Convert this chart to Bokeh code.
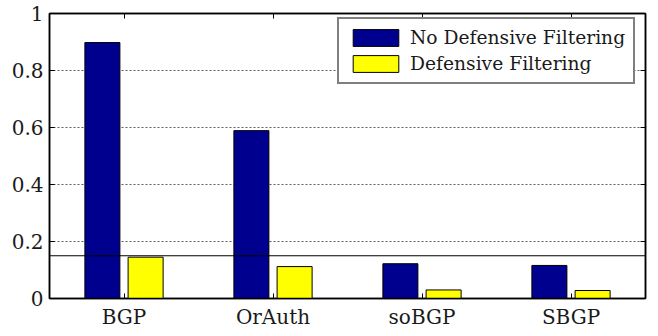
from bokeh.plotting import figure
from bokeh.models import (FactorRange, ColumnDataSource, Span, Legend, LegendItem,
                          CustomJSTickFormatter, LinearAxis, CategoricalAxis, FixedTicker)
from bokeh.transform import dodge
from bokeh.embed import file_html
from bokeh.resources import INLINE

categories = ["BGP", "OrAuth", "soBGP", "SBGP"]
no_filtering = [0.898, 0.589, 0.122, 0.116]
filtering = [0.145, 0.112, 0.030, 0.028]
threshold = 0.15
y_ticks = [0, 0.2, 0.4, 0.6, 0.8, 1]
series_names = ["No Defensive Filtering", "Defensive Filtering"]

FONT = "DejaVu Serif"
FS = "20px"

src = ColumnDataSource(dict(cat=categories, a=no_filtering, b=filtering))

p = figure(width=658, height=336, x_range=FactorRange(factors=categories, range_padding=0),
           y_range=(0, 1), output_backend="svg", toolbar_location=None,
           min_border_left=49, min_border_right=13, min_border_top=13, min_border_bottom=38)
p.x_range.range_padding = 0
p.background_fill_color = "white"
p.border_fill_color = "white"
p.outline_line_color = "black"
p.outline_line_width = 1.5

r1 = p.vbar(x=dodge("cat", -0.145, range=p.x_range), top="a", width=0.235, source=src,
            fill_color="#00008F", line_color="black", line_width=1)
r2 = p.vbar(x=dodge("cat", 0.145, range=p.x_range), top="b", width=0.235, source=src,
            fill_color="#FFFF00", line_color="black", line_width=1)

p.add_layout(Span(location=threshold, dimension="width", line_color="black", line_width=1))

p.xgrid.visible = False
p.ygrid.ticker = FixedTicker(ticks=[t for t in y_ticks if 0 < t < 1])
p.ygrid.grid_line_color = "black"
p.ygrid.grid_line_dash = "2 2"
p.ygrid.grid_line_width = 0.8
p.ygrid.grid_line_alpha = 0.8

p.yaxis.ticker = FixedTicker(ticks=y_ticks)
p.yaxis.formatter = CustomJSTickFormatter(code="return String(Math.round(tick*10)/10);")
for ax in [p.xaxis[0], p.yaxis[0]]:
    ax.major_tick_in = 5
    ax.major_tick_out = 0
    ax.minor_tick_in = 0
    ax.minor_tick_out = 0
    ax.axis_line_color = "black"
    ax.axis_line_width = 1.5
    ax.major_tick_line_color = "black"
    ax.major_label_text_font = FONT
    ax.major_label_text_font_size = FS
    ax.major_label_text_color = "#1a1a1a"
p.yaxis.major_label_standoff = 6
p.xaxis.major_label_standoff = 6

ra = LinearAxis(ticker=FixedTicker(ticks=y_ticks),
                formatter=CustomJSTickFormatter(code="return '';"),
                major_tick_in=5, major_tick_out=0, minor_tick_in=0, minor_tick_out=0,
                axis_line_color="black", axis_line_width=1.5, major_label_standoff=0)
p.add_layout(ra, "right")
ta = CategoricalAxis(major_tick_in=5, major_tick_out=0, axis_line_color="black",
                     axis_line_width=1.5, major_label_text_alpha=0, major_label_text_font_size="1px",
                     major_label_standoff=0, group_text_font_size="1px")
p.add_layout(ta, "above")

legend = Legend(items=[LegendItem(label=series_names[0], renderers=[r1]),
                       LegendItem(label=series_names[1], renderers=[r2])],
                location=(288, 214), orientation="vertical",
                glyph_width=57, glyph_height=21, label_height=21, label_width=50,
                label_standoff=6, spacing=5, padding=8, margin=0,
                label_text_font=FONT, label_text_font_size="18.7px", label_text_color="#1a1a1a",
                border_line_color="black", border_line_width=2, background_fill_alpha=1)
p.add_layout(legend, "center")

open("out.html", "w").write(file_html(p, INLINE))
